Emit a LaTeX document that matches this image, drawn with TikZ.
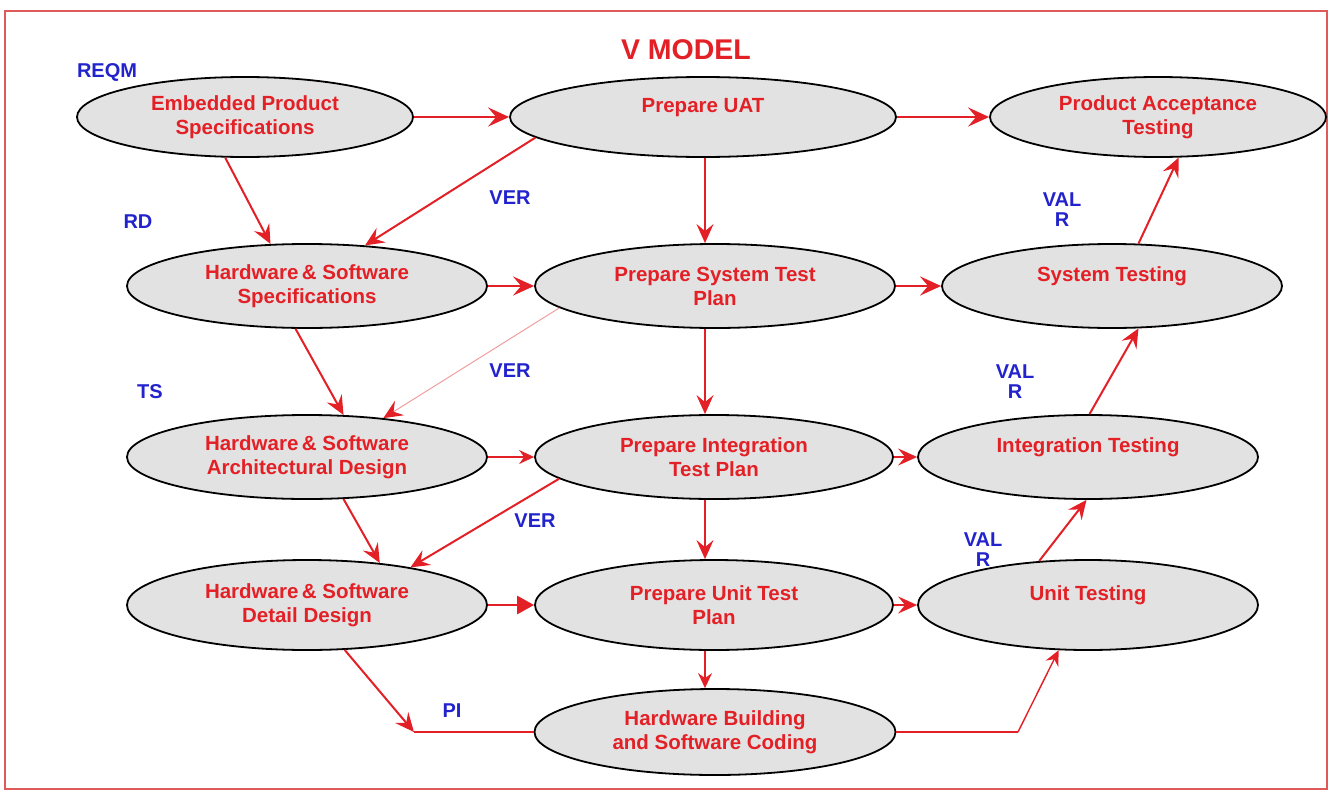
\documentclass[tikz,border=0pt]{standalone}
\usepackage{fontspec}
\setmainfont{Liberation Sans}
\usetikzlibrary{shapes.geometric,arrows.meta,calc}
\definecolor{vred}{RGB}{226,32,38}
\definecolor{vblue}{RGB}{35,35,205}
\definecolor{vgray}{RGB}{226,226,226}
\definecolor{vborder}{RGB}{222,90,90}
\definecolor{vpink}{RGB}{240,150,150}
\begin{document}
\begin{tikzpicture}[x=1pt,y=-1pt,
  stage/.style={ellipse, draw=black, line width=1.8pt, fill=vgray, inner sep=0pt,
    text=vred, font=\fontsize{20.5}{24}\selectfont\bfseries, align=center,
    minimum width=336pt, minimum height=80pt},
  wide/.style={minimum width=360pt, minimum height=84pt},
  lab/.style={text=vblue, font=\fontsize{20}{20}\selectfont\bfseries, align=center, inner sep=0pt},
  arr/.style={draw=vred, line width=2pt, -{Stealth[length=19pt,width=17pt,inset=7pt]}},
  heavy/.style={draw=vred, line width=2.8pt, -{Stealth[length=21pt,width=19pt,inset=8pt]}},
  slim/.style={draw=vred, line width=1.4pt, -{Stealth[length=15pt,width=14pt,inset=5pt]}},
  plain/.style={draw=vred, line width=1.6pt}
]
\useasboundingbox (0,0) rectangle (1332,795);
\fill[white] (0,0) rectangle (1332,795);
\draw[vborder, line width=1.5pt] (5,11) rectangle (1327,789);

\node[text=vred, font=\fontsize{28.5}{30}\selectfont\bfseries, inner sep=0pt] (title) at (686,50) {V MODEL};

% nodes
\node[stage] (E1) at (245,117) {Embedded Product\\Specifications};
\node[stage, minimum width=386pt] (E2) at (703,117) {Prepare UAT\\\phantom{X}};
\node[stage] (E3) at (1158,117) {Product Acceptance\\Testing};
\node[stage, wide] (E4) at (307,286) {Hardware\,\& Software\\Specifications};
\node[stage, wide] (E5) at (715,286) {Prepare System Test\\Plan};
\node[stage, minimum width=340pt, minimum height=84pt] (E6) at (1112,286) {System Testing\\\phantom{X}};
\node[stage, wide] (E7) at (307,457) {Hardware\,\& Software\\Architectural Design};
\node[stage, minimum width=358pt, minimum height=84pt] (E8) at (714,457) {Prepare Integration\\Test Plan};
\node[stage, minimum width=340pt, minimum height=84pt] (E9) at (1088,457) {Integration Testing\\\phantom{X}};
\node[stage, minimum width=360pt, minimum height=90pt] (E10) at (307,605) {Hardware\,\& Software\\Detail Design};
\node[stage, minimum width=358pt, minimum height=90pt] (E11) at (714,605) {Prepare Unit Test\\Plan};
\node[stage, minimum width=340pt, minimum height=90pt] (E12) at (1088,605) {Unit Testing\\\phantom{X}};
\node[stage, minimum width=361pt, minimum height=86pt] (E13) at (715,732) {Hardware Building\\and Software Coding};

% labels
\node[lab] (l1) at (107,72) {REQM};
\node[lab] (l2) at (138,222) {RD};
\node[lab] (l3) at (510,198) {VER};
\node[lab] (l4) at (1062,210) {VAL\\R};
\node[lab] (l5) at (150,392) {TS};
\node[lab] (l6) at (510,371) {VER};
\node[lab] (l7) at (1015,382) {VAL\\R};
\node[lab] (l8) at (535,521) {VER};
\node[lab] (l9) at (983,550) {VAL\\R};
\node[lab] (l10) at (452,711) {PI};

% row 1
\draw[heavy] (E1.east) -- (E2.west);
\draw[heavy] (E2.east) -- (E3.west);
\draw[arr] (E1.244) -- (E4.131);
\draw[arr] (E2.187) -- (E4.35);
\draw[arr] ($(E2.south)+(2,0)$) -- ($(E2.south |- E5.north)+(2,0)$);

% row 2
\draw[heavy] (E4.east) -- (E5.west);
\draw[heavy] (E5.east) -- (E6.west);
\draw[arr] (E6.58) -- (E3.297);
\draw[arr] (E4.255) -- (E7.49);
\draw[draw=vpink, line width=0.9pt, -{Stealth[length=19pt,width=17pt,inset=7pt,color=vred]}] (E5.188) -- (E7.27);
\draw[arr] ($(E5.south)+(-10,0)$) -- ($(E5.south |- E8.north)+(-10,0)$);

% row 3
\draw[slim] (E7.east) -- (E8.west);
\draw[arr] (E8.east) -- (E9.west);
\draw[arr] (E9.88) -- (E6.302);
\draw[arr] (E7.311) -- (E10.30);
\draw[arr] (E8.188) -- (E10.20);
\draw[arr] ($(E8.south)+(-9,0)$) -- ($(E8.south |- E11.north)+(-9,0)$);

% row 4
\draw[draw=vred, line width=2.8pt, -{Triangle[length=17pt,width=18pt]}] (E10.east) -- (E11.west);
\draw[arr] (E11.east) -- (E12.west);
\draw[arr] (E12.138) -- (E9.268);
\coordinate (pi) at (414,732);
\draw[arr] (E10.310) -- (pi);
\draw[plain] (pi) -- (E13.west);
\draw[slim] ($(E11.south)+(-9,0)$) -- ($(E11.south |- E13.north)+(-9,0)$);
\coordinate (bend) at (1018,732);
\draw[plain] (E13.east) -- (bend);
\draw[slim] (bend) -- (E12.237);
\end{tikzpicture}
\end{document}
